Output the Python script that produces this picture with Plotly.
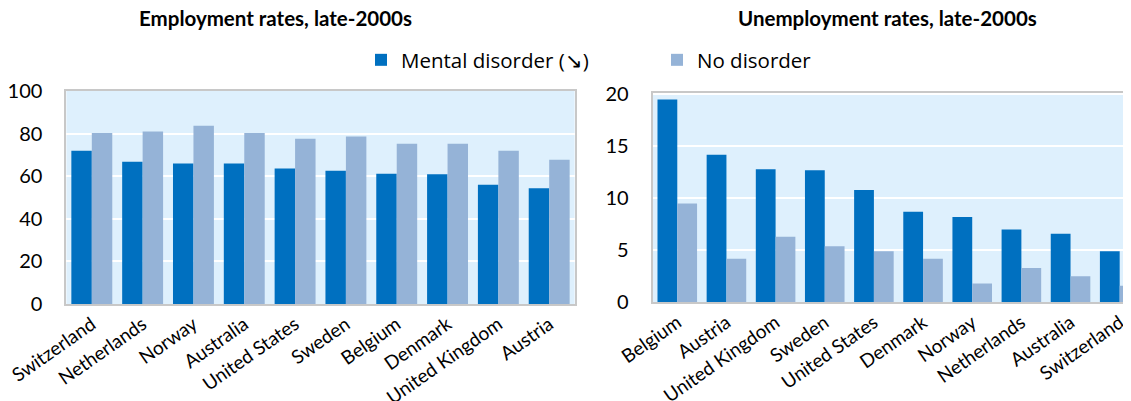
import plotly.graph_objects as go

# ---- data ----
emp_countries = ["Switzerland", "Netherlands", "Norway", "Australia", "United States",
                 "Sweden", "Belgium", "Denmark", "United Kingdom", "Austria"]
emp_mental = [71.9, 66.8, 66.0, 66.0, 63.6, 62.6, 61.2, 60.9, 56.0, 54.3]
emp_none = [80.3, 81.0, 83.7, 80.3, 77.6, 78.6, 75.2, 75.2, 71.9, 67.7]

unemp_countries = ["Belgium", "Austria", "United Kingdom", "Sweden", "United States",
                   "Denmark", "Norway", "Netherlands", "Australia", "Switzerland"]
unemp_mental = [19.5, 14.2, 12.8, 12.7, 10.8, 8.7, 8.2, 7.0, 6.6, 4.9]
unemp_none = [9.5, 4.2, 6.3, 5.4, 4.9, 4.2, 1.8, 3.3, 2.5, 1.6]

series_names = ["Mental disorder (\u2198)", "No disorder"]
colors = ["#0070C0", "#95B3D7"]

# page body has an 8px margin: figure is placed at (8, 8) in the window
OFF = 8
W, H = 1131 - OFF, 401 - OFF


def fx(sx):
    return (sx - OFF) / W


def fy(sy):
    return 1 - (sy - OFF) / H


XTICK_FONT = dict(family="Lato, sans-serif", size=19, color="#000000")
YTICK_FONT = dict(family="Lato, sans-serif", size=20, color="#000000")

fig = go.Figure()
fig.add_bar(x=emp_countries, y=emp_mental, name=series_names[0], marker_color=colors[0],
            xaxis="x", yaxis="y", legendgroup="m")
fig.add_bar(x=emp_countries, y=emp_none, name=series_names[1], marker_color=colors[1],
            xaxis="x", yaxis="y", legendgroup="n")
fig.add_bar(x=unemp_countries, y=unemp_mental, name=series_names[0], marker_color=colors[0],
            xaxis="x2", yaxis="y2", legendgroup="m", showlegend=False)
fig.add_bar(x=unemp_countries, y=unemp_none, name=series_names[1], marker_color=colors[1],
            xaxis="x2", yaxis="y2", legendgroup="n", showlegend=False)
fig.update_traces(marker_line_width=0)

border = "#C8C8C8"
axis_common = dict(showline=True, linecolor=border, linewidth=2, ticks="", zeroline=False,
                   automargin=False)

fig.update_layout(
    width=W, height=H,
    margin=dict(l=0, r=0, t=0, b=0, autoexpand=False),
    paper_bgcolor="white",
    plot_bgcolor="#DEF0FD",
    barmode="group", bargap=0.195, bargroupgap=0,
    xaxis=dict(domain=[fx(66.4), fx(574.6)], range=[-0.5, 9.5], tickangle=-35,
               mirror=True, showgrid=False, tickfont=XTICK_FONT, **axis_common),
    yaxis=dict(domain=[fy(304), fy(91)], range=[0, 100], dtick=20,
               mirror=True, showgrid=True, gridcolor="white", gridwidth=2,
               tickfont=YTICK_FONT, ticklabelstandoff=18, **axis_common),
    xaxis2=dict(domain=[fx(652.7), 1.0], range=[-0.5, 9.23], tickangle=-35,
                mirror=True, showgrid=False, tickfont=XTICK_FONT, anchor="y2", **axis_common),
    yaxis2=dict(domain=[fy(302.3), fy(92.7)], range=[0, 20.16], dtick=5,
                mirror=False, showgrid=True, gridcolor="white", gridwidth=2,
                tickfont=YTICK_FONT, ticklabelstandoff=18, anchor="x2", **axis_common),
    legend=dict(orientation="h", x=fx(361), y=fy(60), xanchor="left", yanchor="middle",
                font=dict(family="Open Sans, sans-serif", size=20.5, color="#000000"),
                entrywidth=251, entrywidthmode="pixels", bgcolor="rgba(0,0,0,0)",
                traceorder="normal"),
    annotations=[
        dict(text="<b>Employment rates, late-2000s</b>", x=fx(275), y=fy(18),
             xref="paper", yref="paper", showarrow=False, xanchor="center", yanchor="middle",
             font=dict(family="Lato, sans-serif", size=20.5, color="#000000")),
        dict(text="<b>Unemployment rates, late-2000s</b>", x=fx(887), y=fy(18),
             xref="paper", yref="paper", showarrow=False, xanchor="center", yanchor="middle",
             font=dict(family="Lato, sans-serif", size=20.5, color="#000000")),
    ],
)

fig.write_html("out.html")
